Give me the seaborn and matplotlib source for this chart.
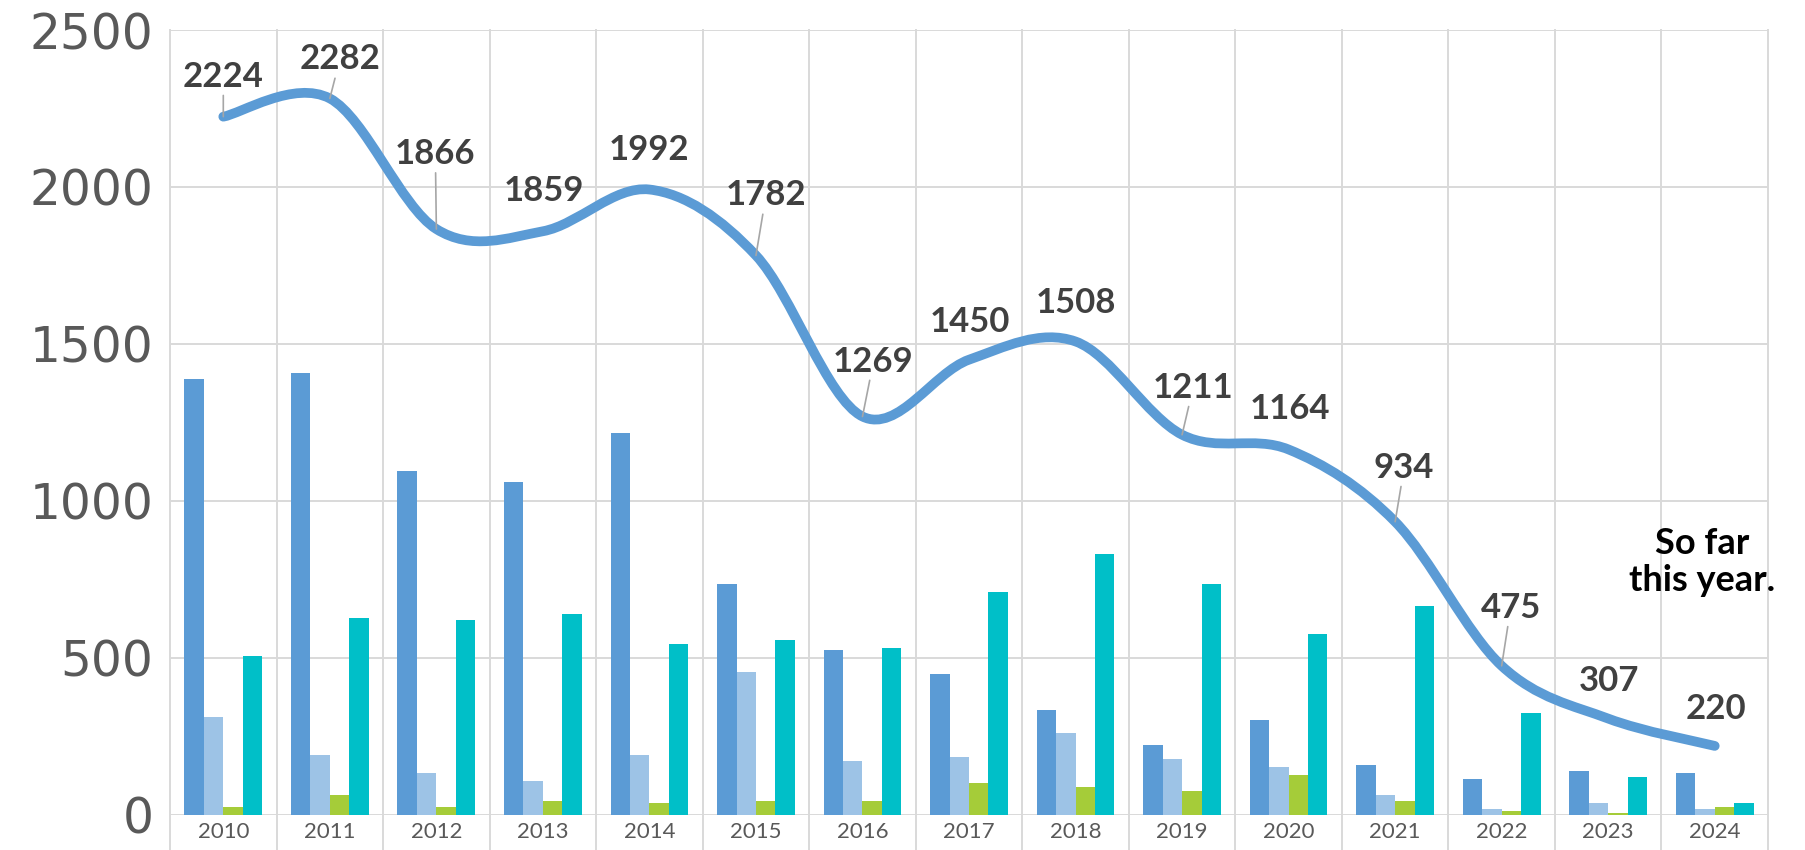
import matplotlib
matplotlib.use('Agg')
import matplotlib.pyplot as plt
import seaborn as sns
import pandas as pd
import numpy as np
from matplotlib.path import Path
from matplotlib.patches import PathPatch

# Values
years = ['2010', '2011', '2012', '2013', '2014', '2015', '2016', '2017',
         '2018', '2019', '2020', '2021', '2022', '2023', '2024']
totals = [2224, 2282, 1866, 1859, 1992, 1782, 1269, 1450, 1508, 1211, 1164, 934, 475, 307, 220]
series_a = [1388, 1407, 1094, 1062, 1215, 736, 525, 448, 333, 224, 301, 160, 115, 141, 134]
series_b = [313, 192, 134, 109, 192, 454, 173, 185, 262, 179, 154, 64, 19, 38, 19]
series_c = [26, 64, 26, 45, 38, 45, 45, 102, 90, 77, 128, 45, 13, 6, 26]
series_d = [505, 627, 620, 640, 544, 556, 531, 710, 832, 736, 576, 665, 326, 122, 38]
series_names = ['A', 'B', 'C', 'D']

# label placement (pixels from the point) and which labels get a leader line
label_offsets = [(0, 40), (10, 39), (-1, 75), (1, 40), (0, 40), (10, 60), (11, 55), (1, 38),
                 (0, 38), (11, 47), (1, 40), (9, 54), (9, 58), (1, 38), (1, 37)]
leaders = [True, True, True, False, False, True, True, False,
           False, True, False, True, True, False, False]

colors = ['#5B9BD5', '#9DC3E6', '#A5CC39', '#00BFC8']
grid_col = '#D9D9D9'

df = pd.DataFrame({
    'year': years * 4,
    'series': np.repeat(series_names, len(years)),
    'value': series_a + series_b + series_c + series_d,
})

fig, ax = plt.subplots(figsize=(18.05, 8.5), dpi=100)
fig.subplots_adjust(left=0.0942, right=0.9795, bottom=0.0412, top=0.9647)

sns.barplot(data=df, x='year', y='value', hue='series', palette=colors, width=0.73,
            saturation=1, linewidth=0, legend=False, ax=ax, zorder=2)

ax.set_xlim(-0.5, len(years) - 0.5)
ax.set_ylim(0, 2500)
ax.set_yticks(range(0, 2501, 500))
ax.set_xlabel('')
ax.set_ylabel('')
for s in ax.spines.values():
    s.set_visible(False)
ax.set_axisbelow(True)
ax.yaxis.grid(True, color=grid_col, lw=1.4, zorder=0)
for b in np.arange(-0.5, len(years), 1):
    ax.axvline(b, ymin=-0.05, ymax=1, color=grid_col, lw=1.4, clip_on=False, zorder=0)

ax.tick_params(axis='both', length=0)
ax.tick_params(axis='y', pad=12, labelcolor='#595959')
ax.tick_params(axis='x', pad=5, labelcolor='#595959')
for t in ax.get_yticklabels():
    t.set_fontfamily('DejaVu Sans')
    t.set_fontsize(35)
for t in ax.get_xticklabels():
    t.set_fontfamily('Lato')
    t.set_fontsize(16)

# smoothed total line (Catmull-Rom style bezier, like Excel's smoothed line)
pts = np.column_stack([np.arange(len(totals)), totals]).astype(float)
verts = [pts[0]]
codes = [Path.MOVETO]
n = len(pts)
for i in range(n - 1):
    p0 = pts[max(i - 1, 0)]
    p1 = pts[i]
    p2 = pts[i + 1]
    p3 = pts[min(i + 2, n - 1)]
    verts += [p1 + (p2 - p0) / 6, p2 - (p3 - p1) / 6, p2]
    codes += [Path.CURVE4] * 3
ax.add_patch(PathPatch(Path(verts, codes), facecolor='none', edgecolor='#5B9BD5',
                       lw=7, capstyle='round', joinstyle='round', zorder=4))

for i, v in enumerate(totals):
    arrow = dict(arrowstyle='-', color='#A6A6A6', lw=1.2, shrinkA=0, shrinkB=0) if leaders[i] else None
    ax.annotate(str(v), xy=(i, v), xytext=label_offsets[i], textcoords='offset pixels',
                ha='center', va='center', fontsize=25, fontweight='bold', family='Lato',
                color='#404040', arrowprops=arrow, zorder=5)

ax.text(0.959, 0.322, 'So far\nthis year.', transform=ax.transAxes,
        ha='center', va='center', fontsize=26, fontweight='bold', family='Lato',
        color='black', linespacing=1.15, zorder=5)

fig.savefig('out.png', dpi=100)
